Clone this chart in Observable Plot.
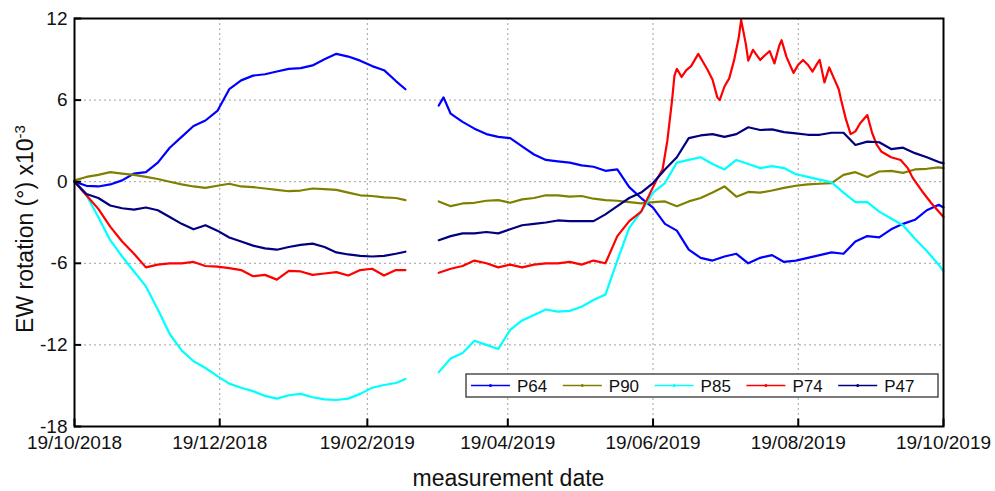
<!DOCTYPE html>
<html><head><meta charset="utf-8">
<script src="https://cdn.jsdelivr.net/npm/d3@7"></script>
<script src="https://cdn.jsdelivr.net/npm/@observablehq/plot@0.6"></script>
<style>body{margin:0;background:#fff} svg{display:block}</style>
</head><body><div id="chart"></div>
<script>
const startDate = "19/10/2018";
const xTickLabels = ["19/10/2018","19/12/2018","19/02/2019","19/04/2019","19/06/2019","19/08/2019","19/10/2019"];
const yTicks = [-18, -12, -6, 0, 6, 12];
const yGrid = [-12, -6, 0, 6];
const seriesNames = ["P64", "P90", "P85", "P74", "P47"];
const seriesColors = ["#0000ff", "#808000", "#00ffff", "#ff0000", "#000080"];
const xTitle = "measurement date";
const yTitle = "EW rotation (°) x10";
const yTitleSup = "-3";

// [days since 19/10/2018, EW rotation (x10^-3 °)]; null = data gap
const P64 = [[0,0],[5,-0.3],[10,-0.35],[15,-0.2],[20,0.1],[25,0.6],[30,0.7],[35,1.4],[40,2.5],[45,3.3],[50,4.1],[55,4.5],[60,5.2],[65,6.8],[70,7.45],[75,7.8],[80,7.9],[85,8.1],[90,8.3],[95,8.35],[100,8.55],[105,9.0],[110,9.4],[115,9.2],[120,8.9],[125,8.5],[130,8.2],[135,7.4],[139,6.8],
  [146,null],
  [153,5.6],[155,6.2],[158,5.0],[163,4.4],[168,3.9],[173,3.5],[178,3.3],[183,3.2],[188,2.6],[193,2.0],[198,1.6],[203,1.5],[208,1.4],[213,1.2],[218,1.1],[223,0.8],[228,0.9],[233,-0.4],[238,-1.2],[243,-1.9],[248,-3.1],[253,-3.6],[258,-5.0],[263,-5.6],[268,-5.8],[273,-5.5],[278,-5.3],[283,-6.0],[288,-5.6],[293,-5.4],[298,-5.9],[303,-5.8],[308,-5.6],[313,-5.4],[318,-5.2],[323,-5.3],[328,-4.4],[333,-4.0],[338,-4.1],[343,-3.5],[348,-3.1],[353,-2.8],[358,-2.1],[363,-1.7],[365,-1.9]];
const P90 = [[0,0.1],[5,0.35],[10,0.5],[15,0.7],[20,0.6],[25,0.5],[30,0.35],[35,0.2],[40,0],[45,-0.2],[50,-0.35],[55,-0.45],[60,-0.3],[65,-0.15],[70,-0.35],[75,-0.4],[80,-0.5],[85,-0.6],[90,-0.7],[95,-0.65],[100,-0.5],[105,-0.55],[110,-0.6],[115,-0.8],[120,-1.0],[125,-1.05],[130,-1.15],[135,-1.2],[139,-1.35],
  [146,null],
  [153,-1.45],[158,-1.8],[163,-1.6],[168,-1.55],[173,-1.4],[178,-1.35],[183,-1.55],[188,-1.3],[193,-1.2],[198,-1.0],[203,-1.0],[208,-1.1],[213,-1.05],[218,-1.25],[223,-1.35],[228,-1.4],[233,-1.5],[238,-1.6],[243,-1.5],[248,-1.45],[253,-1.8],[258,-1.45],[263,-1.2],[268,-0.8],[273,-0.35],[278,-1.1],[283,-0.75],[288,-0.8],[293,-0.65],[298,-0.45],[303,-0.3],[308,-0.2],[313,-0.15],[318,-0.1],[323,0.5],[328,0.7],[333,0.35],[338,0.75],[343,0.8],[348,0.65],[353,0.9],[358,0.95],[363,1.05],[365,1.0]];
const P85 = [[0,0],[5,-1.0],[10,-2.6],[15,-4.3],[20,-5.5],[25,-6.6],[30,-7.7],[35,-9.4],[40,-11.2],[45,-12.4],[50,-13.2],[55,-13.7],[60,-14.3],[65,-14.85],[70,-15.15],[75,-15.4],[80,-15.75],[85,-15.95],[90,-15.7],[95,-15.6],[100,-15.85],[105,-16.0],[110,-16.05],[115,-15.95],[120,-15.6],[125,-15.15],[130,-14.95],[135,-14.8],[139,-14.5],
  [146,null],
  [153,-14.0],[158,-13.0],[163,-12.6],[168,-11.7],[173,-12.0],[178,-12.3],[183,-10.9],[188,-10.2],[193,-9.8],[198,-9.4],[203,-9.55],[208,-9.5],[213,-9.2],[218,-8.7],[223,-8.3],[228,-5.8],[233,-3.4],[238,-2.2],[243,-0.8],[248,-0.1],[253,1.4],[258,1.6],[263,1.8],[268,1.3],[273,0.9],[278,1.6],[283,1.3],[288,1.0],[293,1.15],[298,1.0],[303,0.55],[308,0.35],[313,0.15],[318,-0.05],[323,-0.8],[328,-1.5],[333,-1.5],[338,-2.2],[343,-2.7],[348,-3.2],[353,-4.2],[358,-5.1],[363,-6.1],[365,-6.6]];
const P74 = [[0,0],[5,-1.0],[10,-2.0],[15,-3.3],[20,-4.4],[25,-5.3],[30,-6.3],[35,-6.1],[40,-6.0],[45,-6.0],[50,-5.9],[55,-6.2],[60,-6.25],[65,-6.35],[70,-6.5],[75,-6.95],[80,-6.85],[85,-7.2],[90,-6.55],[95,-6.6],[100,-6.85],[105,-6.75],[110,-6.65],[115,-6.9],[120,-6.5],[125,-6.4],[130,-6.9],[135,-6.5],[139,-6.5],
  [146,null],
  [153,-6.7],[158,-6.4],[163,-6.2],[168,-5.8],[173,-6.0],[178,-6.3],[183,-6.1],[188,-6.3],[193,-6.1],[198,-6.0],[203,-6.0],[208,-5.9],[213,-6.1],[218,-5.8],[223,-6.0],[228,-4.0],[233,-2.9],[238,-2.2],[243,-0.4],[245,0.3],[247,0.9],[249,3.0],[251,6.0],[252,7.8],[253,8.3],[255,7.7],[257,8.2],[259,8.5],[262,9.4],[264,8.8],[266,8.2],[268,7.5],[270,6.2],[271,6.0],[273,7.0],[275,7.6],[277,8.9],[279,10.6],[280,11.9],[281,11.0],[282,10.1],[283,8.9],[285,9.7],[287,9.2],[288,8.95],[290,9.3],[292,9.6],[294,8.7],[296,10.0],[297,10.4],[299,9.2],[301,8.4],[302,8.0],[304,8.6],[306,8.95],[308,8.6],[310,8.1],[312,8.7],[313,8.95],[315,7.3],[317,8.4],[319,7.6],[321,6.8],[322,6.0],[324,4.6],[326,3.5],[328,3.7],[330,4.3],[333,4.9],[335,3.6],[337,2.7],[339,2.2],[343,1.8],[347,1.6],[350,1.0],[352,0.3],[356,-0.7],[360,-1.6],[365,-2.6]];
const P47 = [[0,0],[5,-0.9],[10,-1.2],[15,-1.75],[20,-1.95],[25,-2.05],[30,-1.9],[35,-2.1],[40,-2.6],[45,-3.1],[50,-3.5],[55,-3.2],[60,-3.6],[65,-4.1],[70,-4.4],[75,-4.7],[80,-4.9],[85,-5.0],[90,-4.8],[95,-4.65],[100,-4.55],[105,-4.8],[110,-5.2],[115,-5.35],[120,-5.45],[125,-5.5],[130,-5.45],[135,-5.3],[139,-5.15],
  [146,null],
  [153,-4.3],[158,-4.0],[163,-3.8],[168,-3.8],[173,-3.7],[178,-3.8],[183,-3.5],[188,-3.2],[193,-3.1],[198,-3.0],[203,-2.85],[208,-2.9],[213,-2.9],[218,-2.9],[223,-2.4],[228,-1.8],[233,-1.2],[238,-0.8],[243,-0.1],[248,0.9],[253,1.8],[258,3.2],[263,3.4],[268,3.5],[273,3.3],[278,3.5],[283,4.0],[288,3.8],[293,3.85],[298,3.65],[303,3.55],[308,3.45],[313,3.45],[318,3.6],[323,3.6],[328,2.7],[333,2.95],[338,2.9],[343,2.4],[348,2.5],[353,2.1],[358,1.8],[363,1.45],[365,1.35]];

const seriesData = [P64, P90, P85, P74, P47];

const parse = d3.utcParse("%d/%m/%Y");
const start = parse(startDate);
const xTicks = xTickLabels.map(parse);
const rows = seriesData.flatMap((arr, i) => arr.map(([d, v]) => ({
  date: d3.utcDay.offset(start, d), value: v, series: seriesNames[i]
})));

const FONT = "'Liberation Sans', Arial, sans-serif";
const chart = Plot.plot({
  width: 995, height: 491,
  marginLeft: 74, marginRight: 52, marginTop: 18, marginBottom: 65,
  style: {fontFamily: FONT, fontSize: "19px", color: "#111", background: "#fff"},
  x: {type: "utc", domain: [xTicks[0], xTicks[xTicks.length - 1]]},
  y: {domain: [-18, 12]},
  color: {domain: seriesNames, range: seriesColors},
  marks: [
    Plot.gridX(xTicks.slice(1, -1), {stroke: "#a0a0a0", strokeOpacity: 1, strokeDasharray: "2,3"}),
    Plot.gridY(yGrid, {stroke: "#a0a0a0", strokeOpacity: 1, strokeDasharray: "2,3"}),
    Plot.line(rows, {x: "date", y: "value", z: "series", stroke: "series", strokeWidth: 2.2}),
    Plot.ruleX(xTicks, {y1: -18, y2: -17.45, stroke: "#000", strokeWidth: 2}),
    Plot.ruleY(yTicks, {x1: xTicks[0], x2: d3.utcDay.offset(xTicks[0], 3), stroke: "#000", strokeWidth: 2}),
    Plot.axisX({ticks: xTicks, tickSize: 0, tickPadding: 9, tickFormat: d3.utcFormat("%d/%m/%Y"), label: null}),
    Plot.axisY({ticks: yTicks, tickSize: 0, tickPadding: 7, tickFormat: d => String(d), label: null}),
    Plot.frame({stroke: "#000", strokeWidth: 2})
  ]
});

const svg = d3.select(chart);
// axis titles
svg.append("text").attr("x", 508.5).attr("y", 486).attr("text-anchor", "middle")
  .attr("font-family", FONT).attr("font-size", 23).attr("fill", "#111").text(xTitle);
const yt = svg.append("text").attr("transform", "translate(33,229) rotate(-90)").attr("text-anchor", "middle")
  .attr("font-family", FONT).attr("font-size", 23).attr("fill", "#111");
yt.append("tspan").text(yTitle);
yt.append("tspan").attr("dy", "-0.55em").attr("font-size", 15).text(yTitleSup);

// legend
const lg = svg.append("g").attr("font-family", FONT).attr("font-size", 17).attr("fill", "#111");
lg.append("rect").attr("x", 466).attr("y", 374).attr("width", 472).attr("height", 23)
  .attr("fill", "#fff").attr("stroke", "#333").attr("stroke-width", 1.3);
seriesNames.forEach((name, i) => {
  const x0 = 471 + i * 91.8, y0 = 385.5;
  lg.append("line").attr("x1", x0).attr("x2", x0 + 39).attr("y1", y0).attr("y2", y0)
    .attr("stroke", seriesColors[i]).attr("stroke-width", 1.3);
  lg.append("circle").attr("cx", x0 + 19.5).attr("cy", y0).attr("r", 1.5).attr("fill", seriesColors[i]);
  lg.append("text").attr("x", x0 + 46).attr("y", y0 + 6.5).attr("text-anchor", "start").text(name);
});

document.getElementById("chart").append(chart);
</script>
</body></html>
